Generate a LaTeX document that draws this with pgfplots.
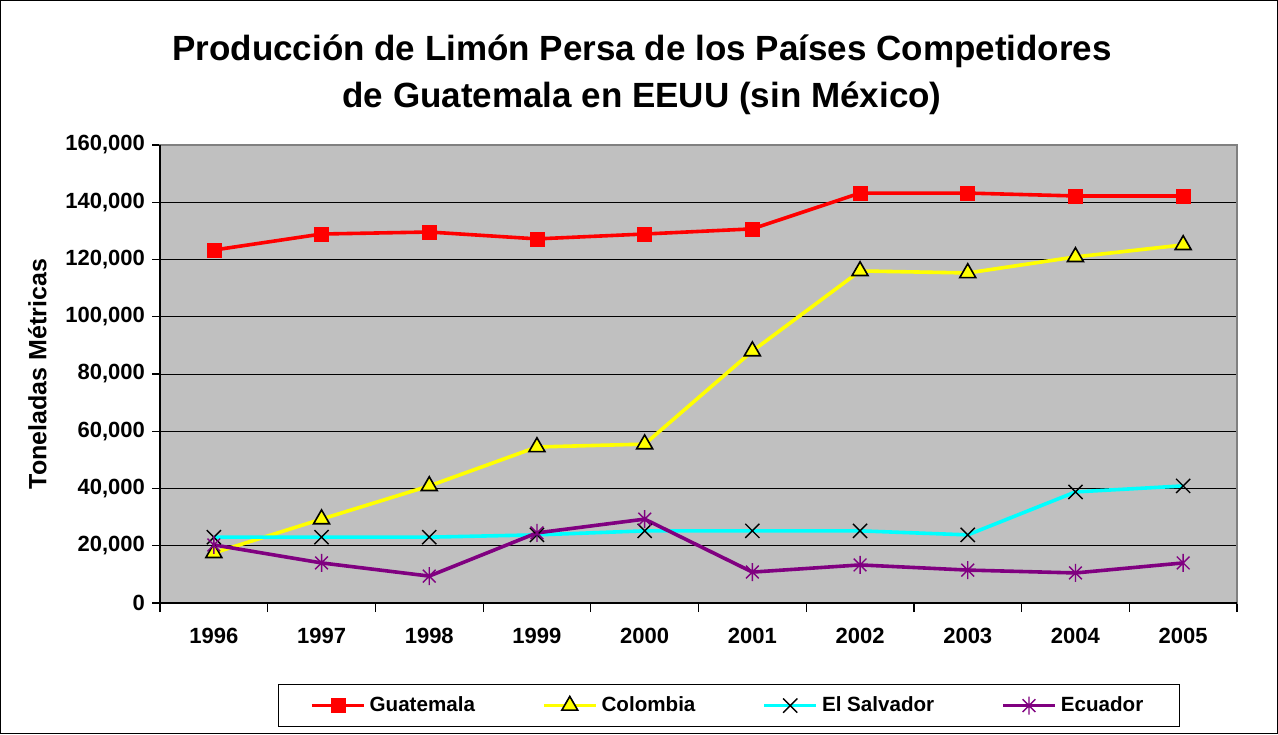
\documentclass[border=0pt]{standalone}
\usepackage{fontspec}
\setmainfont{Liberation Sans}
\usepackage{pgfplots}
\pgfplotsset{compat=1.18}
\definecolor{plotgray}{HTML}{C0C0C0}
\definecolor{expurple}{HTML}{800080}
\definecolor{excyan}{HTML}{00FFFF}
\definecolor{exyellow}{HTML}{FFFF00}
\definecolor{exred}{HTML}{FF0000}
\pgfdeclareplotmark{xstar}{%
  \pgfpathmoveto{\pgfqpoint{-.7071\pgfplotmarksize}{-.7071\pgfplotmarksize}}%
  \pgfpathlineto{\pgfqpoint{.7071\pgfplotmarksize}{.7071\pgfplotmarksize}}%
  \pgfpathmoveto{\pgfqpoint{-.7071\pgfplotmarksize}{.7071\pgfplotmarksize}}%
  \pgfpathlineto{\pgfqpoint{.7071\pgfplotmarksize}{-.7071\pgfplotmarksize}}%
  \pgfpathmoveto{\pgfqpoint{0pt}{-\pgfplotmarksize}}%
  \pgfpathlineto{\pgfqpoint{0pt}{\pgfplotmarksize}}%
  \pgfusepathqstroke}
\begin{document}
\begin{tikzpicture}
\useasboundingbox (0,0) rectangle (639pt,367pt);
\draw[line width=0.5pt] (0.25pt,0.25pt) rectangle (638.75pt,366.75pt);
\node[align=center, font=\bfseries\fontsize{17.5}{23.5}\selectfont] at (321pt,329.5pt)
  {Producción de Limón Persa de los Países Competidores\\de Guatemala en EEUU (sin México)};
\begin{axis}[
  at={(80pt,65.5pt)}, anchor=south west,
  scale only axis, width=538.5pt, height=229pt,
  xmin=0, xmax=10, ymin=0, ymax=160000,
  ytick={0,20000,...,160000},
  scaled y ticks=false,
  yticklabel style={/pgf/number format/.cd, fixed, 1000 sep={,}, assume math mode=true},
  tick label style={font=\bfseries\fontsize{11}{13}\selectfont},
  xticklabel style={yshift=-5pt},
  xtick={0.5,1.5,...,9.5},
  xticklabels={1996,1997,1998,1999,2000,2001,2002,2003,2004,2005},
  minor xtick={0,1,...,10},
  major x tick style={draw=none},
  tick align=outside, tick pos=left,
  major tick length=4pt, minor tick length=4.5pt,
  tick style={black, line width=0.6pt},
  axis background/.style={fill=plotgray},
  axis line style={draw=gray, line width=0.75pt},
  ymajorgrids, major grid style={black, line width=0.5pt},
  ylabel={Toneladas Métricas},
  ylabel style={at={(axis description cs:-0.114,0.5)}, anchor=center, font=\bfseries\fontsize{12.5}{14}\selectfont},
  legend columns=4,
  legend style={at={(0.528,-0.224)}, anchor=center, draw=black, line width=0.5pt, fill=white,
    font=\bfseries\fontsize{10.3}{12}\selectfont,
    /tikz/every even column/.append style={column sep=31.5pt},
    inner xsep=16pt, inner ysep=4pt},
  legend image code/.code={\draw[mark repeat=2,mark phase=2] plot coordinates {(0pt,0pt) (13pt,0pt) (26pt,0pt)};},
  after end axis/.code={\draw[black, line width=0.75pt] (axis description cs:0,1) -- (axis description cs:0,0) -- (axis description cs:1,0);},
]
\addplot[color=exred, line width=1.8pt, mark=square*, mark size=3.5pt, mark options={fill=exred, draw=exred, line width=0.3pt}]
 coordinates {(0.5,123300) (1.5,128900) (2.5,129600) (3.5,127200) (4.5,128900) (5.5,130700) (6.5,143200) (7.5,143200) (8.5,142200) (9.5,142200)};
\addlegendentry{Guatemala}
\addplot[color=exyellow, line width=1.8pt, mark=triangle*, mark size=4.6pt, mark options={fill=exyellow, draw=black, line width=0.8pt}]
 coordinates {(0.5,17500) (1.5,29300) (2.5,40900) (3.5,54500) (4.5,55500) (5.5,88000) (6.5,116000) (7.5,115300) (8.5,120900) (9.5,125100)};
\addlegendentry{Colombia}
\addplot[color=excyan, line width=1.8pt, mark=x, mark size=5pt, mark options={draw=black, line width=0.7pt}]
 coordinates {(0.5,23000) (1.5,23000) (2.5,23000) (3.5,23800) (4.5,25200) (5.5,25200) (6.5,25200) (7.5,23800) (8.5,38800) (9.5,40900)};
\addlegendentry{El Salvador}
\addplot[color=expurple, line width=1.8pt, mark=xstar, mark size=4.5pt, mark options={draw=expurple, line width=0.7pt}]
 coordinates {(0.5,20300) (1.5,14000) (2.5,9400) (3.5,24500) (4.5,29300) (5.5,10800) (6.5,13300) (7.5,11500) (8.5,10500) (9.5,14000)};
\addlegendentry{Ecuador}
\end{axis}
\end{tikzpicture}
\end{document}
